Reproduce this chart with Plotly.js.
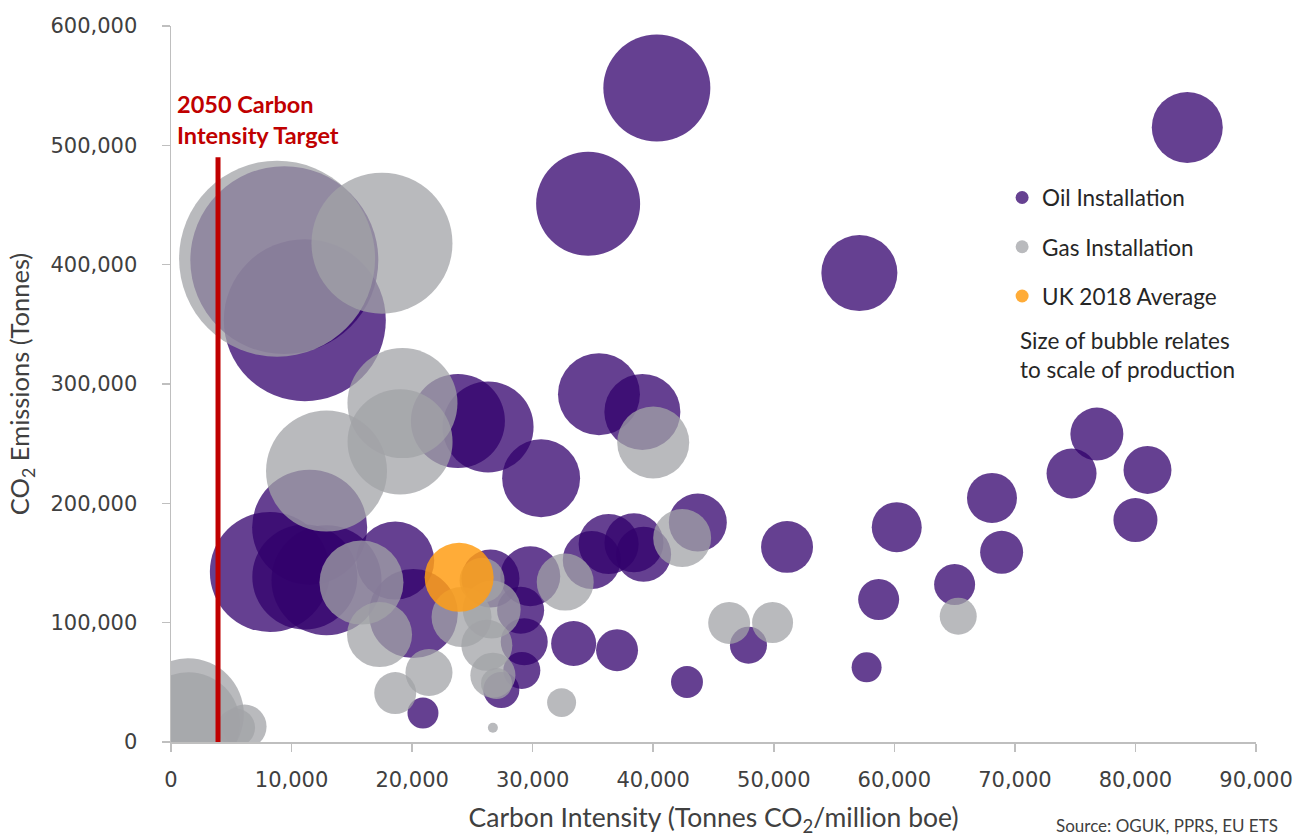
<!DOCTYPE html>
<html>
<head>
<meta charset="utf-8">
<script src="https://cdn.plot.ly/plotly-3.0.1.min.js"></script>
<style>html,body{margin:0;padding:0;background:#fff;}#chart{width:1311px;height:837px;}</style>
</head>
<body>
<div id="chart"></div>
<script>
// Oil installations: carbon intensity (t CO2 / million boe), CO2 emissions (t), production (relative scale)
const oilIntensity = [40300,34600,57100,84300,76800,74700,81000,80000,68100,68900,60200,65000,58700,57700,51100,43700,39200,38400,36300,34900,35500,39100,30700,23800,26300,11100,9400,11500,8200,11100,12900,18600,20100,29800,26500,29000,29300,29100,27400,20900,33400,37000,42800,47900];
const oilEmissions = [548000,451000,393000,515000,258000,225000,228000,186000,204500,159000,180000,132000,119400,62600,163500,184000,157300,167000,166000,152600,291500,276600,221000,269000,264000,353500,403800,180000,142500,138300,135500,152000,107600,139000,137000,110400,84000,60000,43600,24300,82500,76900,50300,81100];
const oilProduction = [114.5,108.2,57.8,50.4,28.1,25,23,19.4,25,18.5,25,16.8,16.8,9,27,33.6,30.3,34.8,36,33.6,67.2,57.8,60.8,88.4,82.8,262.4,353.4,132.3,144,110.3,121,60.8,79.2,36,33.6,22.1,22.1,13.7,13,9.6,20.3,17.6,10.2,13.7];

// Gas installations
const gasIntensity = [17500,8800,19200,19000,12900,15800,17300,18600,21400,24100,26600,26200,26700,27000,25800,32700,40000,42400,32400,26700,46300,49900,65300,1400,1450,6100,5400];
const gasEmissions = [418000,405000,284000,251500,227000,133600,90000,41000,58200,104800,111000,81000,56000,49000,135500,134000,251000,171000,33000,12000,99800,100100,105400,23200,15300,13000,12000];
const gasProduction = [198.8,384.2,121,110.3,146.4,70.6,42.3,17.6,22.1,36,33.6,26,20.3,9.6,20.3,32.5,51.8,33.6,8.4,1,17.6,16.8,13.7,125.4,106.1,19.4,14.4];

// UK 2018 average
const ukIntensity = [23900];
const ukEmissions = [138000];
const ukProduction = [47.6];

// 2050 carbon intensity target line
const targetIntensity = 3900;
const targetLineTop = 490000;

const xTicks = [0,10000,20000,30000,40000,50000,60000,70000,80000,90000];
const yTicks = [0,100000,200000,300000,400000,500000,600000];

const SIZEREF = 0.02;

function bubbles(x, y, s, color, op, name) {
  return {type:'scatter', mode:'markers', x:x, y:y, name:name, showlegend:false, hoverinfo:'skip',
    marker:{size:s, sizemode:'area', sizeref:SIZEREF, color:color, opacity:op, line:{width:0}}};
}
function legendItem(color, name, group) {
  return {type:'scatter', mode:'markers', x:[null], y:[null], name:name, legendgroup:group,
    marker:{size:13, color:color, opacity:1, line:{width:0}}};
}

const data = [
  bubbles(oilIntensity, oilEmissions, oilProduction, 'rgb(50,0,108)', 0.75, 'Oil Installation'),
  bubbles(gasIntensity, gasEmissions, gasProduction, 'rgb(162,163,167)', 0.75, 'Gas Installation'),
  bubbles(ukIntensity, ukEmissions, ukProduction, 'rgb(255,158,21)', 0.85, 'UK 2018 Average'),
  legendItem('rgb(102,65,145)', 'Oil Installation', 'a'),
  legendItem('rgb(185,186,189)', 'Gas Installation', 'b'),
  legendItem('rgb(255,172,56)', 'UK 2018 Average', 'c')
];

const axisCommon = {
  showgrid:false, zeroline:false, showline:true, linecolor:'#bfbfbf', linewidth:1.5,
  ticks:'outside', ticklen:8, tickcolor:'#bfbfbf', tickwidth:1.5,
  tickfont:{family:'DejaVu Sans', size:21, color:'#404040'},
  separatethousands:true, tickformat:',d', automargin:false, fixedrange:true
};

const layout = {
  width:1311, height:837,
  margin:{l:171, r:55, t:26, b:95},
  paper_bgcolor:'#ffffff', plot_bgcolor:'#ffffff',
  showlegend:true,
  legend:{x:0.766, y:0.790, xanchor:'left', yanchor:'top', traceorder:'grouped', tracegroupgap:17,
    font:{family:'Lato', size:22.5, color:'#262626'}, bgcolor:'rgba(0,0,0,0)', itemclick:false},
  xaxis:Object.assign({}, axisCommon, {
    range:[0,90000], tickvals:xTicks, ticklabelstandoff:10,
    title:{text:'Carbon Intensity (Tonnes CO<sub>2</sub>/million boe)', standoff:20,
      font:{family:'Lato', size:26.5, color:'#404040'}}
  }),
  yaxis:Object.assign({}, axisCommon, {
    range:[0,600000], tickvals:yTicks, ticklabelstandoff:20,
    title:{text:'CO<sub>2</sub> Emissions (Tonnes)', standoff:13,
      font:{family:'Lato', size:25.5, color:'#404040'}}
  }),
  shapes:[{type:'line', xref:'x', yref:'y', x0:targetIntensity, x1:targetIntensity, y0:0, y1:targetLineTop,
    line:{color:'#c00000', width:5}, layer:'above'}],
  annotations:[
    {xref:'paper', yref:'paper', x:0.004, y:0.869, xanchor:'left', yanchor:'middle', align:'left', showarrow:false,
      text:'<b>2050 Carbon<br>Intensity Target</b>', font:{family:'Lato', size:23.5, color:'#c00000'}},
    {xref:'paper', yref:'paper', x:0.781, y:0.540, xanchor:'left', yanchor:'middle', align:'left', showarrow:false,
      text:'Size of bubble relates<br>to scale of production', font:{family:'Lato', size:22.5, color:'#262626'}},
    {xref:'paper', yref:'paper', x:1.022, y:-0.117, xanchor:'right', yanchor:'middle', showarrow:false,
      text:'Source: OGUK, PPRS, EU ETS', font:{family:'Lato', size:17, color:'#404040'}}
  ]
};

Plotly.newPlot('chart', data, layout, {displayModeBar:false, staticPlot:true});
</script>
</body>
</html>
